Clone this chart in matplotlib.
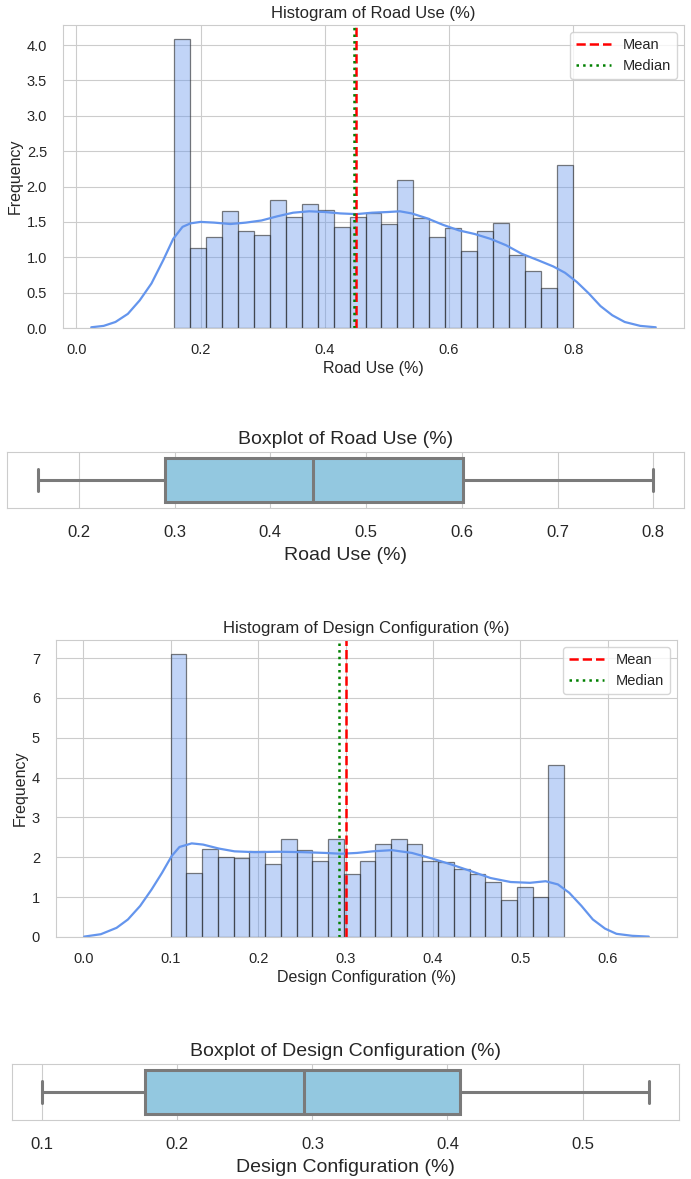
import numpy as np
import matplotlib
matplotlib.use("Agg")
import matplotlib.pyplot as plt
import seaborn as sns

sns.set_style("whitegrid")
plt.rcParams['font.family'] = ['Liberation Sans', 'DejaVu Sans']

# Road Use (%) - histogram (density), 25 bins
road_edges = np.linspace(0.157, 0.800, 26)
road_heights = [4.08, 1.13, 1.29, 1.65, 1.37, 1.31, 1.81, 1.57, 1.75, 1.67,
                1.43, 1.57, 1.63, 1.47, 2.09, 1.55, 1.29, 1.41, 1.09, 1.37,
                1.48, 1.03, 0.81, 0.57, 2.30]
road_kde_x = [0.024, 0.044, 0.063, 0.083, 0.102, 0.121, 0.140, 0.156, 0.171,
              0.184, 0.200, 0.222, 0.248, 0.273, 0.298, 0.324, 0.349, 0.375,
              0.400, 0.425, 0.451, 0.476, 0.502, 0.521, 0.540, 0.565, 0.590,
              0.616, 0.641, 0.667, 0.692, 0.717, 0.743, 0.768, 0.787, 0.806,
              0.825, 0.844, 0.863, 0.883, 0.908, 0.933]
road_kde_y = [0.01, 0.03, 0.085, 0.20, 0.39, 0.63, 0.96, 1.26, 1.43,
              1.48, 1.50, 1.49, 1.47, 1.49, 1.52, 1.58, 1.63, 1.65,
              1.64, 1.62, 1.61, 1.63, 1.64, 1.65, 1.62, 1.55, 1.46,
              1.38, 1.33, 1.26, 1.17, 1.05, 0.96, 0.87, 0.78, 0.65,
              0.49, 0.31, 0.18, 0.085, 0.03, 0.01]
road_mean = 0.451
road_median = 0.447
# boxplot stats: whislo, q1, med, q3, whishi
road_box = [0.157, 0.290, 0.445, 0.601, 0.800]

# Design Configuration (%)
design_edges = np.linspace(0.100, 0.550, 26)
design_heights = [7.10, 1.61, 2.22, 2.02, 1.98, 2.16, 1.84, 2.47, 2.19, 1.92,
                  2.47, 1.58, 1.92, 2.33, 2.47, 2.33, 1.92, 1.88, 1.71, 1.58,
                  1.39, 0.92, 1.25, 1.01, 4.32]
design_kde_x = [0.001, 0.020, 0.038, 0.051, 0.065, 0.078, 0.090, 0.101, 0.110,
                0.124, 0.137, 0.155, 0.173, 0.196, 0.223, 0.250, 0.277, 0.295,
                0.313, 0.331, 0.353, 0.376, 0.399, 0.421, 0.444, 0.466, 0.489,
                0.511, 0.529, 0.543, 0.556, 0.570, 0.583, 0.597, 0.610, 0.628,
                0.647]
design_kde_y = [0.01, 0.07, 0.23, 0.44, 0.78, 1.19, 1.61, 2.03, 2.26,
                2.35, 2.32, 2.22, 2.15, 2.13, 2.14, 2.13, 2.11, 2.09,
                2.11, 2.15, 2.18, 2.11, 1.97, 1.82, 1.65, 1.48, 1.38,
                1.36, 1.40, 1.32, 1.11, 0.78, 0.44, 0.21, 0.08, 0.03,
                0.01]
design_mean = 0.300
design_median = 0.292
design_box = [0.100, 0.176, 0.294, 0.409, 0.549]

W, H = 691, 1179
fig = plt.figure(figsize=(W / 100, H / 100), dpi=100)


def rect(left, top, right, bottom):
    return [left / W, 1 - bottom / H, (right - left) / W, (bottom - top) / H]


def histogram(ax, edges, heights, kx, ky, mean, median, name):
    ax.bar(edges[:-1], heights, width=np.diff(edges), align='edge',
           color=(0.392, 0.584, 0.929, 0.4), edgecolor=(0.15, 0.15, 0.15, 0.6),
           linewidth=0.9)
    ax.plot(kx, ky, color='cornflowerblue', linewidth=1.6)
    ax.axvline(mean, color='red', linestyle='--', linewidth=1.8, label='Mean')
    ax.axvline(median, color='green', linestyle=':', linewidth=1.8, label='Median')
    ax.set_title(f'Histogram of {name}', fontsize=12, pad=5)
    ax.set_xlabel(name, fontsize=11.5, labelpad=3)
    ax.set_ylabel('Frequency', fontsize=11.5, labelpad=3)
    ax.tick_params(axis='x', labelsize=10.5, pad=7)
    ax.tick_params(axis='y', labelsize=10.5, pad=8)
    ax.legend(loc='upper right', fontsize=10.5, handlelength=2.4)


def boxplot(ax, stats, name):
    st = [dict(whislo=stats[0], q1=stats[1], med=stats[2], q3=stats[3],
               whishi=stats[4], fliers=[])]
    line = dict(color='#7a7a7a', linewidth=2.2)
    ax.bxp(st, vert=False, positions=[0], widths=0.8, patch_artist=True,
           boxprops=dict(facecolor='#93c8e0', edgecolor='#7a7a7a', linewidth=2.2),
           medianprops=line, whiskerprops=line, capprops=line, capwidths=0.4)
    ax.set_ylim(0.5, -0.5)
    ax.set_yticks([])
    ax.grid(axis='y', visible=False)
    ax.set_title(f'Boxplot of {name}', fontsize=14, pad=6)
    ax.set_xlabel(name, fontsize=14, labelpad=5)
    ax.tick_params(labelsize=12, pad=9)


ax1 = fig.add_axes(rect(63, 25, 684, 328))
histogram(ax1, road_edges, road_heights, road_kde_x, road_kde_y,
          road_mean, road_median, 'Road Use (%)')

ax2 = fig.add_axes(rect(7, 452, 684, 508))
boxplot(ax2, road_box, 'Road Use (%)')

ax3 = fig.add_axes(rect(56, 640, 677, 937))
histogram(ax3, design_edges, design_heights, design_kde_x, design_kde_y,
          design_mean, design_median, 'Design Configuration (%)')

ax4 = fig.add_axes(rect(12, 1064, 679, 1120))
boxplot(ax4, design_box, 'Design Configuration (%)')

fig.savefig('out.png', dpi=100)
